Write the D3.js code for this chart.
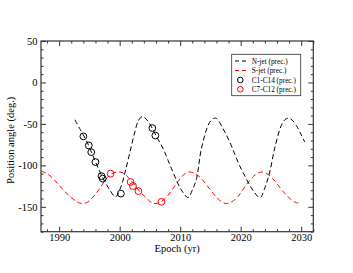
<!DOCTYPE html>
<html><head><meta charset="utf-8">
<script src="https://cdn.jsdelivr.net/npm/d3@7"></script>
<style>
body{margin:0;background:#fff;}
text{font-family:"Liberation Serif","Times New Roman",serif;}
</style></head>
<body><div id="chart"></div>
<script>
// N-jet precession model (year, PA deg)
const nJetYears = [1992.6,1993.5,1994.5,1995.5,1996.5,1997.5,1998.4,1999.3,2000.2,2000.9,2001.7,2002.5,2003.1,2003.8,2004.7,2005.5,2006.3,2007.2,2008.0,2008.8,2009.9,2010.6,2011.3,2012.0,2012.7,2013.5,2014.6,2015.2,2015.9,2017.1,2018.2,2019.0,2019.8,2020.7,2021.5,2022.3,2023.2,2024.0,2024.8,2025.6,2026.7,2027.3,2027.9,2028.6,2029.2,2030.0,2030.6];
const nJetPA = [-45,-57,-70,-87,-104,-119,-130,-138,-126,-108,-84,-60,-46,-41,-47,-57,-68,-80,-94,-108,-126,-134,-139,-130,-116,-80,-52,-45,-43,-56,-72,-86,-100,-113,-124,-133,-139,-127,-108,-80,-52,-45,-43,-46,-52,-63,-72];
// S-jet precession model
const sJetYears = [1987.0,1988.0,1989.0,1990.0,1991.0,1992.0,1993.0,1993.7,1994.5,1995.5,1996.5,1997.5,1998.5,1999.5,2000.5,2001.5,2002.5,2003.5,2004.5,2005.3,2006.0,2007.0,2008.0,2009.0,2010.0,2010.8,2011.5,2012.5,2013.5,2014.5,2015.5,2016.5,2017.6,2018.5,2019.5,2020.5,2021.5,2022.5,2023.4,2024.3,2025.3,2026.3,2027.3,2028.3,2029.2,2030.0];
const sJetPA = [-107,-110,-116,-124,-132,-139,-144,-146,-145,-139,-130,-119,-111,-108,-109,-115,-124,-133,-140,-145,-146,-143,-136,-126,-116,-110,-108,-110,-116,-125,-134,-142,-146,-144,-138,-128,-118,-111,-108,-110,-116,-125,-134,-141,-145,-146];
// Components C1-C14 (black circles)
const c1Years = [1994.0,1994.9,1995.3,1996.0,1997.0,1997.2,2000.2,2005.4,2005.9];
const c1PA = [-65,-76,-84,-96,-113,-116,-134,-55,-64];
// Components C7-C12 (red circles)
const c7Years = [1998.5,2001.8,2002.2,2003.1,2006.9];
const c7PA = [-110,-120,-125,-131,-144];
// Axes
const xMajor = [1990,2000,2010,2020,2030];
const yMajor = [-150,-100,-50,0,50];
const legendLabels = ["N-jet (prec.)","S-jet (prec.)","C1-C14 (prec.)","C7-C12 (prec.)"];

const W=353,H=273;
const L=41,R=313.3,T=41,B=231.7;
const svg=d3.select("#chart").append("svg").attr("width",W).attr("height",H);
const x=d3.scaleLinear().domain([1987,2032]).range([L,R]);
const y=d3.scaleLinear().domain([-180,50]).range([B,T]);

const xMinor=d3.range(1988,2033,2).filter(v=>!xMajor.includes(v));
const yMinor=d3.range(-180,51,10).filter(v=>!yMajor.includes(v));

const frameCol="#333";
function styleAxis(g){g.select(".domain").remove();g.selectAll("line").attr("stroke",frameCol).attr("stroke-width",1);
 g.selectAll("text").attr("font-size","10.5px").attr("fill","#000").text(function(){return this.textContent.replace("\u2212","-");});}
// bottom
svg.append("g").attr("transform",`translate(0,${B})`).call(d3.axisBottom(x).tickValues(xMajor).tickFormat(d3.format("d")).tickSize(-5).tickPadding(1.8)).call(styleAxis);
svg.append("g").attr("transform",`translate(0,${B})`).call(d3.axisBottom(x).tickValues(xMinor).tickFormat("").tickSize(-2.5)).call(styleAxis);
// top
svg.append("g").attr("transform",`translate(0,${T})`).call(d3.axisTop(x).tickValues(xMajor).tickFormat("").tickSize(-5)).call(styleAxis);
svg.append("g").attr("transform",`translate(0,${T})`).call(d3.axisTop(x).tickValues(xMinor).tickFormat("").tickSize(-2.5)).call(styleAxis);
// left
svg.append("g").attr("transform",`translate(${L},0)`).call(d3.axisLeft(y).tickValues(yMajor).tickFormat(d3.format("d")).tickSize(-5).tickPadding(3.5)).call(styleAxis);
svg.append("g").attr("transform",`translate(${L},0)`).call(d3.axisLeft(y).tickValues(yMinor).tickFormat("").tickSize(-2.5)).call(styleAxis);
// right
svg.append("g").attr("transform",`translate(${R},0)`).call(d3.axisRight(y).tickValues(yMajor).tickFormat("").tickSize(-5)).call(styleAxis);
svg.append("g").attr("transform",`translate(${R},0)`).call(d3.axisRight(y).tickValues(yMinor).tickFormat("").tickSize(-2.5)).call(styleAxis);
// frame
svg.append("rect").attr("x",L).attr("y",T).attr("width",R-L).attr("height",B-T).attr("fill","none").attr("stroke",frameCol).attr("stroke-width",1.2);

// curves
const line=d3.line().x(d=>x(d[0])).y(d=>y(d[1])).curve(d3.curveCatmullRom.alpha(0.5));
const nData=nJetYears.map((v,i)=>[v,nJetPA[i]]);
const sData=sJetYears.map((v,i)=>[v,sJetPA[i]]);
svg.append("defs").append("clipPath").attr("id","clip").append("rect").attr("x",L).attr("y",T).attr("width",R-L).attr("height",B-T);
svg.append("path").datum(sData).attr("d",line).attr("fill","none").attr("stroke","#ff0000").attr("stroke-width",1).attr("stroke-dasharray","5,3").attr("clip-path","url(#clip)");
svg.append("path").datum(nData).attr("d",line).attr("fill","none").attr("stroke","#000").attr("stroke-width",1).attr("stroke-dasharray","5,3").attr("clip-path","url(#clip)");

svg.append("g").selectAll("circle").data(c1Years.map((v,i)=>[v,c1PA[i]])).join("circle")
 .attr("cx",d=>x(d[0])).attr("cy",d=>y(d[1])).attr("r",3.4).attr("fill","none").attr("stroke","#000").attr("stroke-width",1);
svg.append("g").selectAll("circle").data(c7Years.map((v,i)=>[v,c7PA[i]])).join("circle")
 .attr("cx",d=>x(d[0])).attr("cy",d=>y(d[1])).attr("r",3.4).attr("fill","none").attr("stroke","#ff0000").attr("stroke-width",1);

// axis titles
svg.append("text").attr("x",(L+R)/2).attr("y",252).attr("text-anchor","middle").attr("font-size","10.5px").text("Epoch (yr)");
svg.append("text").attr("transform",`translate(14,${(T+B)/2+4}) rotate(-90)`).attr("text-anchor","middle").attr("font-size","10.5px").text("Position angle (deg.)");

// legend
const lg=svg.append("g");
lg.append("rect").attr("x",231.7).attr("y",54.3).attr("width",69).attr("height",41.4).attr("fill","#fff").attr("stroke","#333").attr("stroke-width",0.8);
const rowsY=[61,70.5,80,89.3];
const types=[["line","#000"],["line","#ff0000"],["circ","#000"],["circ","#ff0000"]];
legendLabels.forEach((lab,i)=>{
  const t=types[i];
  if(t[0]==="line"){
    lg.append("line").attr("x1",235).attr("x2",246).attr("y1",rowsY[i]).attr("y2",rowsY[i]).attr("stroke",t[1]).attr("stroke-width",1).attr("stroke-dasharray","4,3");
  } else {
    lg.append("circle").attr("cx",240.3).attr("cy",rowsY[i]).attr("r",2.8).attr("fill","none").attr("stroke",t[1]).attr("stroke-width",1);
  }
  lg.append("text").attr("x",251.7).attr("y",rowsY[i]+2.5).attr("font-size","7.3px").text(lab);
});
</script></body></html>
